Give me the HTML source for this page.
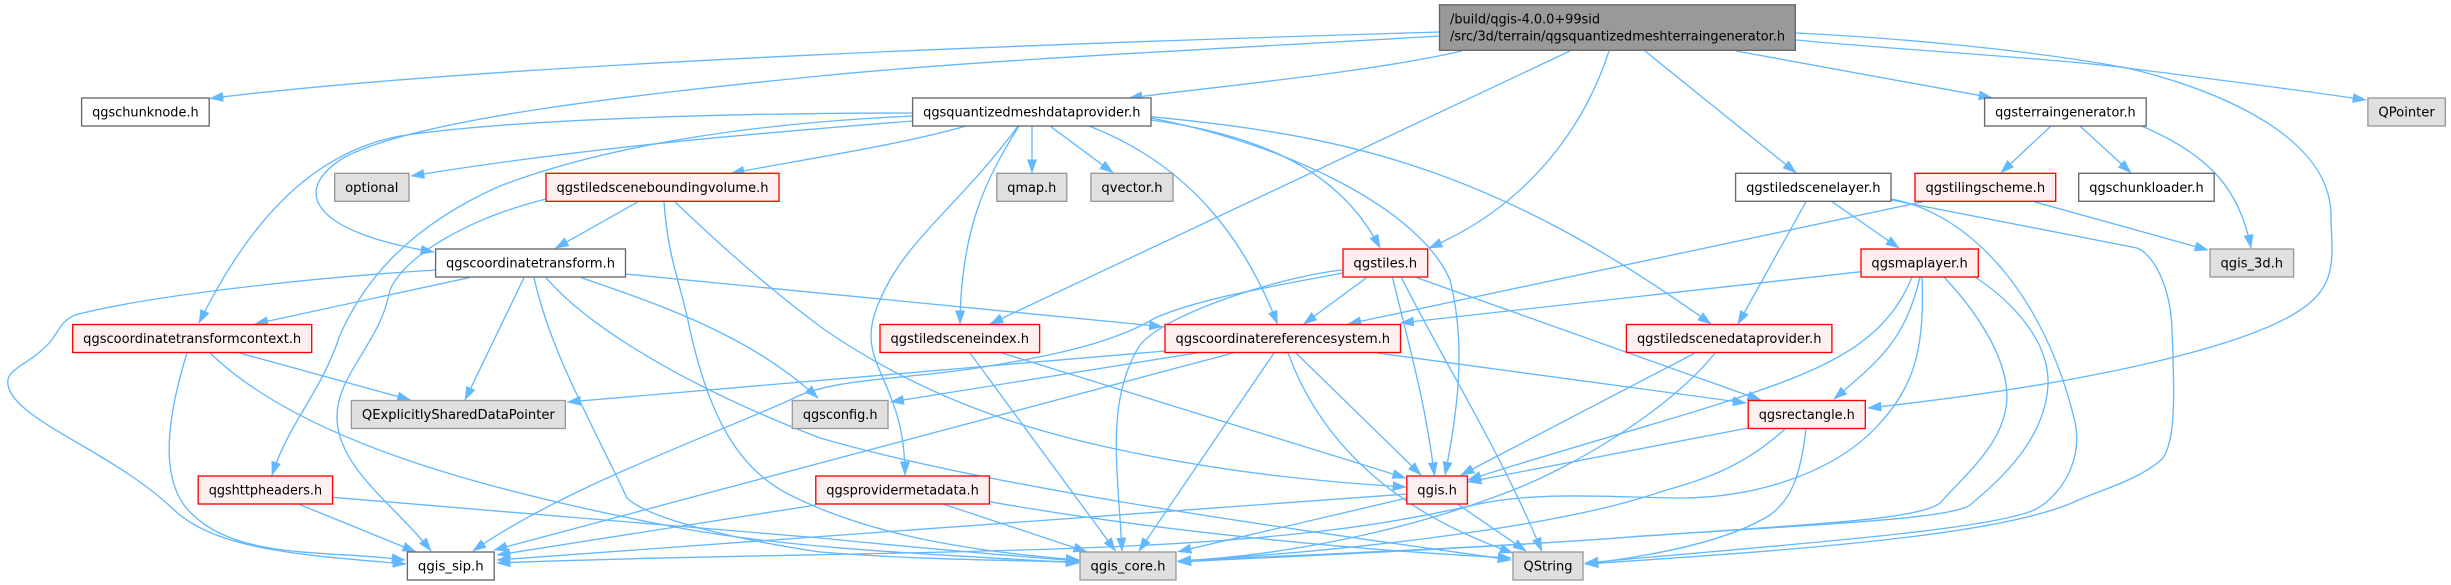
<!DOCTYPE html>
<html><head><meta charset="utf-8"><style>
html,body{margin:0;padding:0;background:#fff}
svg{display:block}
text{font-family:"DejaVu Sans","Liberation Sans",sans-serif;font-size:13px;fill:#000;text-anchor:middle}
.e path{fill:none;stroke:#63B8FF;stroke-width:1.33;marker-end:url(#a)}
.w{fill:#fff;stroke:#666;stroke-width:1.33}
.g{fill:#E0E0E0;stroke:#999;stroke-width:1.33}
.r{fill:#FFF0F0;stroke:#F00;stroke-width:1.33}
</style></head><body>
<svg xmlns="http://www.w3.org/2000/svg" width="2451" height="585" viewBox="0 0 2451 585">
<defs><marker id="a" markerUnits="userSpaceOnUse" viewBox="0 0 14 10" markerWidth="14" markerHeight="10" refX="13.3" refY="5" orient="auto"><path d="M0 .3L13.3 5 0 9.7z" fill="#63B8FF" stroke="#63B8FF" stroke-width=".5"/></marker></defs>
<g class="e">
<path d="M1440 32C1100 42 500 62 210 98.5"/>
<path d="M1440 36C1200 50 980 60 820 76C640 94 420 118 345 157C290 190 310 232 434 252"/>
<path d="M1462 51C1370 72 1230 85 1129 98"/>
<path d="M1570 51L990 324"/>
<path d="M1609 51C1585 125 1530 205 1429 248"/>
<path d="M1645 51L1796 172.7"/>
<path d="M1736 51L1992 97.7"/>
<path d="M1796 40C1900 50 2050 58 2127 68S2300 90 2366 100"/>
<path d="M1796 33C1900 38 2030 50 2127 68C2200 85 2330 130 2331 215C2331 245 2338 275 2315 298C2270 345 2080 385 1868 408"/>
<path d="M913 113C750 113 520 118 400 136C300 155 240 240 199 323"/>
<path d="M913 116C780 122 620 140 500 186C400 230 360 290 340 335C320 395 290 420 272 475"/>
<path d="M913 121C800 130 600 145 411 176"/>
<path d="M966 126C900 145 800 160 731 173.3"/>
<path d="M1018 126C960 205 905 240 880 300C850 365 905 375 905 475"/>
<path d="M1019 126C985 180 961 230 960 324"/>
<path d="M1032 126V172.7"/>
<path d="M1050 126L1113 172.7"/>
<path d="M1089 126C1190 165 1245 240 1277.5 324"/>
<path d="M1151 120C1260 135 1340 170 1380 248"/>
<path d="M1151 118C1290 145 1420 210 1450 280C1465 340 1460 400 1445 475"/>
<path d="M1151 116.7C1340 135 1490 165 1711 324"/>
<path d="M638 201.7L555.4 248.3"/>
<path d="M546 199C470 218 405 255 390 290C380 345 335 375 337 420C340 470 395 505 431 551"/>
<path d="M664 201.7C668 260 680 280 690 330C710 420 740 470 790 495C860 530 950 550 1079 560"/>
<path d="M675 202C720 245 770 290 825 330C920 395 1020 430 1130 452C1240 475 1340 483 1406 487"/>
<path d="M436 270C320 277 150 295 75 315C60 322 60 330 50 342C30 365 5 368 8 385C14 420 110 450 172 508C215 550 300 555 406 564"/>
<path d="M469 277.7L254.7 324"/>
<path d="M524 277.7L465 400"/>
<path d="M534 277.7C550 350 590 420 627 498C650 520 740 540 820 552C920 560 1000 560 1079 562"/>
<path d="M546 277.7C600 340 720 400 820 438C1000 490 1300 530 1511 560"/>
<path d="M581.5 277.7C660 305 750 335 818 398"/>
<path d="M625.5 274L1162.5 326.7"/>
<path d="M239.5 353L410.5 400"/>
<path d="M187 353C160 440 165 490 193 515C240 560 330 550 405 560"/>
<path d="M210 353C300 440 480 490 680 528C800 550 950 555 1079 563"/>
<path d="M299 504.3L415.7 551.7"/>
<path d="M332.6 497.3L820 538C920 548 1000 555 1079 561"/>
<path d="M816 505L497 555"/>
<path d="M943 504L1086.7 551.7"/>
<path d="M989.4 501.7C1150 530 1350 550 1511 558"/>
<path d="M970 353L1115.5 551"/>
<path d="M1002 353L1405.7 478"/>
<path d="M1165 351L567.4 402"/>
<path d="M1196.5 353L890.6 402"/>
<path d="M1233 353L494 550"/>
<path d="M1274 353L1139 551"/>
<path d="M1288 353C1320 440 1390 510 1513 553"/>
<path d="M1296 353L1421 475"/>
<path d="M1377 353L1746 403"/>
<path d="M1343 270C1290 275 1170 310 1140 345C1105 400 1118 470 1122 551"/>
<path d="M1343 273C1280 285 1200 298 1155 318C1110 345 1040 358 977 368C900 380 830 378 790 400C700 440 560 490 473 551"/>
<path d="M1366.5 277.7L1303.7 324"/>
<path d="M1392.6 277.7C1410 350 1425 400 1434.5 475.7"/>
<path d="M1401.5 277.7C1440 355 1500 450 1541.7 551"/>
<path d="M1417 277.7L1760.7 400"/>
<path d="M1923 201.7L1348 324"/>
<path d="M2034 201.7L2208 250"/>
<path d="M2051 126L2001 172.7"/>
<path d="M2080 126L2131 172.7"/>
<path d="M2141.5 126C2210 155 2240 190 2251 248"/>
<path d="M1832 201.7L1899 248"/>
<path d="M1806 201.7L1738 324"/>
<path d="M1891.5 199C1975 215 2045 300 2074 418C2085 460 2060 495 2038 508C2000 530 1780 545 1585 563"/>
<path d="M1891.5 200L2137 248C2155 255 2171 290 2172 330C2175 400 2175 440 2163 458C2140 480 2100 490 2074 502C2000 535 1800 550 1585 564"/>
<path d="M1861 271.7L1400.5 323"/>
<path d="M1912 277.3C1890 330 1850 360 1755 392C1690 415 1560 450 1468 480"/>
<path d="M1920 277.3C1905 340 1880 360 1834 399"/>
<path d="M1922 277C1925 345 1915 385 1881 422C1835 475 1750 498 1682 498C1620 498 1540 490 1474 505C1400 522 1300 540 1081 548C900 555 700 555 497 563"/>
<path d="M1944 277C1975 310 2006 355 2007 395C2007 440 1970 470 1940 503C1920 520 1800 525 1630 537C1500 547 1300 555 1178 561"/>
<path d="M1975 277C2010 300 2050 340 2048 385C2045 440 2000 480 1970 505C1950 520 1800 525 1630 537C1500 547 1300 556 1178 562"/>
<path d="M1695 353L1461 475"/>
<path d="M1715 353C1670 410 1570 470 1500 495C1420 525 1300 555 1178 561"/>
<path d="M1748 428L1468 482"/>
<path d="M1785 429C1740 470 1700 480 1660 492C1580 520 1400 548 1178 561"/>
<path d="M1806 429C1800 480 1790 500 1770 515C1730 540 1660 555 1585 564"/>
<path d="M1407 494L497 560"/>
<path d="M1407 498L1178 551.7"/>
<path d="M1458 504.3L1526 551"/>
</g>
<g lengthAdjust="spacingAndGlyphs">
<rect class="g" x="1439.5" y="4.8" width="355.8" height="45.5" style="fill:#999;stroke:#666"/>
<text x="1450" y="23.3" style="text-anchor:start" textLength="150" lengthAdjust="spacingAndGlyphs">/build/qgis-4.0.0+99sid</text>
<text x="1450" y="40.7" style="text-anchor:start" textLength="335" lengthAdjust="spacingAndGlyphs">/src/3d/terrain/qgsquantizedmeshterraingenerator.h</text>
<rect class="w" x="81.6" y="98" width="127.6" height="28"/><text x="145.4" y="116.5" textLength="106.6" lengthAdjust="spacingAndGlyphs">qgschunknode.h</text>
<rect class="w" x="912.6" y="98" width="238.4" height="28"/><text x="1031.8" y="116.5" textLength="217.4" lengthAdjust="spacingAndGlyphs">qgsquantizedmeshdataprovider.h</text>
<rect class="w" x="1984.6" y="98" width="161.6" height="28"/><text x="2065.4" y="116.5" textLength="140.6" lengthAdjust="spacingAndGlyphs">qgsterraingenerator.h</text>
<rect class="g" x="2367.9" y="98" width="77.4" height="28"/><text x="2406.6" y="116.5" textLength="56.4" lengthAdjust="spacingAndGlyphs">QPointer</text>
<rect class="g" x="334.7" y="173.3" width="74.3" height="28"/><text x="371.8" y="191.8" textLength="53.3" lengthAdjust="spacingAndGlyphs">optional</text>
<rect class="r" x="546" y="173.3" width="233" height="28"/><text x="662.5" y="191.8" textLength="212" lengthAdjust="spacingAndGlyphs">qgstiledsceneboundingvolume.h</text>
<rect class="g" x="996.8" y="173.3" width="70" height="28"/><text x="1031.8" y="191.8" textLength="49" lengthAdjust="spacingAndGlyphs">qmap.h</text>
<rect class="g" x="1090.9" y="173.3" width="82.1" height="28"/><text x="1132" y="191.8" textLength="61.1" lengthAdjust="spacingAndGlyphs">qvector.h</text>
<rect class="w" x="1735.6" y="173.3" width="155.4" height="28"/><text x="1813.3" y="191.8" textLength="134.4" lengthAdjust="spacingAndGlyphs">qgstiledscenelayer.h</text>
<rect class="r" x="1915" y="173.3" width="140.7" height="28"/><text x="1985.3" y="191.8" textLength="119.7" lengthAdjust="spacingAndGlyphs">qgstilingscheme.h</text>
<rect class="w" x="2078.7" y="173.3" width="135.5" height="28"/><text x="2146.5" y="191.8" textLength="114.5" lengthAdjust="spacingAndGlyphs">qgschunkloader.h</text>
<rect class="w" x="435.6" y="249" width="189.9" height="28"/><text x="530.5" y="267.5" textLength="168.9" lengthAdjust="spacingAndGlyphs">qgscoordinatetransform.h</text>
<rect class="r" x="1343" y="249" width="84.7" height="28"/><text x="1385.3" y="267.5" textLength="63.7" lengthAdjust="spacingAndGlyphs">qgstiles.h</text>
<rect class="r" x="1861" y="249" width="117.3" height="28"/><text x="1919.6" y="267.5" textLength="96.3" lengthAdjust="spacingAndGlyphs">qgsmaplayer.h</text>
<rect class="g" x="2210" y="249" width="83.6" height="28"/><text x="2251.8" y="267.5" textLength="62.6" lengthAdjust="spacingAndGlyphs">qgis_3d.h</text>
<rect class="r" x="72.7" y="324.5" width="239" height="28"/><text x="192.2" y="343" textLength="218" lengthAdjust="spacingAndGlyphs">qgscoordinatetransformcontext.h</text>
<rect class="r" x="880" y="324.5" width="159.6" height="28"/><text x="959.8" y="343" textLength="138.6" lengthAdjust="spacingAndGlyphs">qgstiledsceneindex.h</text>
<rect class="r" x="1165" y="324.5" width="235.5" height="28"/><text x="1282.8" y="343" textLength="214.5" lengthAdjust="spacingAndGlyphs">qgscoordinatereferencesystem.h</text>
<rect class="r" x="1626.4" y="324.5" width="205.5" height="28"/><text x="1729.2" y="343" textLength="184.5" lengthAdjust="spacingAndGlyphs">qgstiledscenedataprovider.h</text>
<rect class="g" x="351.4" y="400.5" width="213.9" height="28"/><text x="458.4" y="419" textLength="192.9" lengthAdjust="spacingAndGlyphs">QExplicitlySharedDataPointer</text>
<rect class="g" x="792.3" y="400.5" width="95.7" height="28"/><text x="840.2" y="419" textLength="74.7" lengthAdjust="spacingAndGlyphs">qgsconfig.h</text>
<rect class="r" x="1748.2" y="400.5" width="117.1" height="28"/><text x="1806.8" y="419" textLength="96.1" lengthAdjust="spacingAndGlyphs">qgsrectangle.h</text>
<rect class="r" x="198.2" y="476" width="134.4" height="28"/><text x="265.4" y="494.5" textLength="113.4" lengthAdjust="spacingAndGlyphs">qgshttpheaders.h</text>
<rect class="r" x="815.8" y="476" width="173.6" height="28"/><text x="902.6" y="494.5" textLength="152.6" lengthAdjust="spacingAndGlyphs">qgsprovidermetadata.h</text>
<rect class="r" x="1406.8" y="476" width="60.6" height="28"/><text x="1437.1" y="494.5" textLength="39.6" lengthAdjust="spacingAndGlyphs">qgis.h</text>
<rect class="w" x="407.4" y="552" width="86.8" height="28"/><text x="450.8" y="570.5" textLength="65.8" lengthAdjust="spacingAndGlyphs">qgis_sip.h</text>
<rect class="g" x="1080" y="552" width="96" height="28"/><text x="1128" y="570.5" textLength="75" lengthAdjust="spacingAndGlyphs">qgis_core.h</text>
<rect class="g" x="1513" y="552" width="70" height="28"/><text x="1548" y="570.5" textLength="49" lengthAdjust="spacingAndGlyphs">QString</text>
</g>
</svg>
</body></html>
